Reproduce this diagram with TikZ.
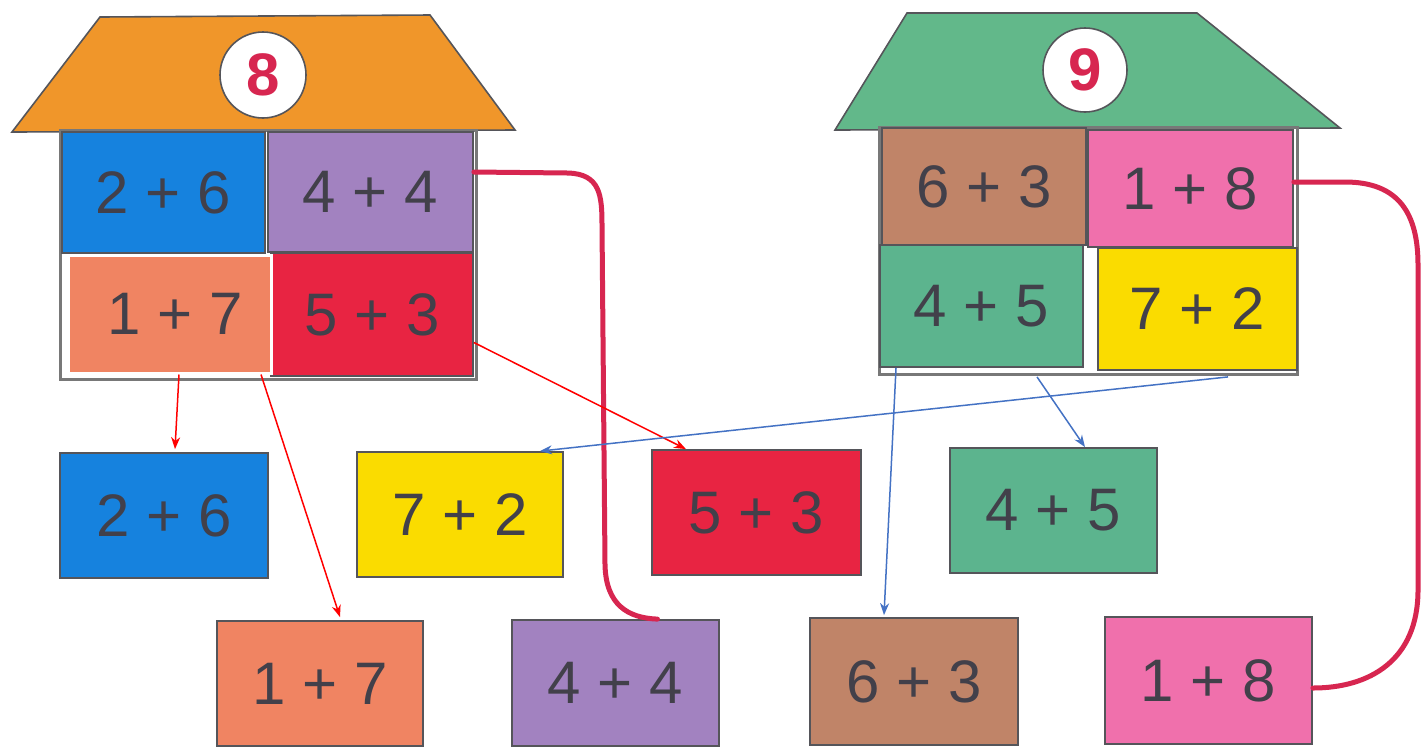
\documentclass[tikz,border=0pt]{standalone}
\usepackage{fontspec}
\setmainfont{Liberation Sans}
\usetikzlibrary{arrows.meta}
\definecolor{roofor}{RGB}{240,150,42}
\definecolor{roofgr}{RGB}{98,184,138}
\definecolor{cblue}{RGB}{22,130,222}
\definecolor{cpurple}{RGB}{162,130,192}
\definecolor{csalmon}{RGB}{240,132,98}
\definecolor{cred}{RGB}{232,36,66}
\definecolor{cbrown}{RGB}{192,132,104}
\definecolor{cpink}{RGB}{240,112,172}
\definecolor{cgreen}{RGB}{92,180,142}
\definecolor{cyellow}{RGB}{250,220,0}
\definecolor{txtgray}{RGB}{66,64,74}
\definecolor{edgegray}{RGB}{85,85,90}
\definecolor{bodygray}{RGB}{120,120,120}
\definecolor{crimson}{RGB}{215,38,80}
\definecolor{arrblue}{RGB}{68,114,196}
\tikzset{
  box/.style={draw=edgegray, line width=0.9pt, inner sep=0pt, text=txtgray,
    font=\fontsize{30}{32}\selectfont},
  roof/.style={draw=edgegray, line width=0.8pt},
  body/.style={draw=bodygray, line width=1.5pt, fill=white},
  badge/.style={circle, draw=edgegray, line width=0.8pt, fill=white, inner sep=0pt,
    text=crimson, font=\fontsize{30}{32}\selectfont\bfseries},
  redarr/.style={draw=red, line width=0.75pt, -{Stealth[length=6pt,width=4.5pt]}},
  bluearr/.style={draw=arrblue, line width=0.75pt, -{Stealth[length=6pt,width=4.5pt]}},
  link/.style={draw=crimson, line width=2.5pt, line cap=round}
}
\begin{document}
\begin{tikzpicture}[x=0.5pt,y=-0.5pt]
\useasboundingbox (0,0) rectangle (1422,746);
\fill[white] (0,0) rectangle (1422,746);
% ---------- house 8 ----------
\draw[roof, fill=roofor] (100,17) -- (430,15) -- (515,130) -- (12,132) -- cycle;
\node[badge, minimum size=43pt] (c8) at (263,75) {8};
\draw[body] (60,130) rectangle (476,379);
\node[box, fill=cblue, minimum width=101.5pt, minimum height=60.5pt] (h8a) at (163.5,192.5) {2 + 6};
\node[box, fill=cpurple, minimum width=102.5pt, minimum height=60pt] (h8b) at (370.5,192) {4 + 4};
\node[box, fill=cred, minimum width=101pt, minimum height=61.5pt] (h8d) at (372,314.5) {5 + 3};
\node[box, draw=white, line width=1.5pt, fill=csalmon, minimum width=101.5pt, minimum height=59pt] (h8c) at (169.5,314) {\hspace{6pt}1 + 7};
% ---------- house 9 ----------
\draw[roof, fill=roofgr] (907,13) -- (1197,13) -- (1340,128) -- (835,130) -- cycle;
\node[badge, minimum size=42pt] (c9) at (1085,70) {9};
\draw[body] (879,127) rectangle (1297,374);
\node[box, fill=cbrown, minimum width=102pt, minimum height=58.5pt] (h9a) at (984,186.5) {6 + 3};
\node[box, fill=cpink, minimum width=102.5pt, minimum height=58.5pt] (h9b) at (1190.5,188.5) {1 + 8};
\node[box, fill=cgreen, minimum width=101.5pt, minimum height=61pt] (h9c) at (981.5,306) {4 + 5};
\node[box, fill=cyellow, minimum width=99.5pt, minimum height=61pt] (h9d) at (1197.5,309) {7 + 2};
% ---------- loose cards ----------
\node[box, fill=cblue, minimum width=104pt, minimum height=62.5pt] (b1) at (164,515.5) {2 + 6};
\node[box, fill=cyellow, minimum width=103pt, minimum height=62.5pt] (b2) at (460,514.5) {7 + 2};
\node[box, fill=cred, minimum width=104.5pt, minimum height=62.5pt] (b3) at (756.5,512.5) {5 + 3};
\node[box, fill=cgreen, minimum width=103.5pt, minimum height=62.5pt] (b4) at (1053.5,510.5) {4 + 5};
\node[box, fill=csalmon, minimum width=103pt, minimum height=62.5pt] (b5) at (320,683.5) {1 + 7};
\node[box, fill=cpurple, minimum width=103.5pt, minimum height=63pt] (b6) at (615.5,683) {4 + 4};
\node[box, fill=cbrown, minimum width=104pt, minimum height=63.5pt] (b7) at (914,681.5) {6 + 3};
\node[box, fill=cpink, minimum width=103.5pt, minimum height=63.5pt] (b8) at (1208.5,680.5) {1 + 8};
% ---------- thick links ----------
\draw[link] ([yshift=10pt]h8b.east) -- (568,173)
  .. controls (600,174) and (602,195) .. (602,225)
  -- (605,565)
  .. controls (606,605) and (628,618) .. ([xshift=21pt]b6.north);
\draw[link] ([yshift=3.25pt]h9b.east) -- (1345,182)
  .. controls (1400,182) and (1418,215) .. (1418,265)
  -- (1418,590)
  .. controls (1418,660) and (1370,688) .. ([yshift=-3.75pt]b8.east);
% ---------- arrows ----------
\draw[redarr] ([xshift=4.75pt]h8c.south) -- ([xshift=5.5pt,yshift=1.5pt]b1.north);
\draw[redarr] ([xshift=45.75pt]h8c.south) -- ([xshift=10pt,yshift=1.5pt]b5.north);
\draw[redarr] ([yshift=-14pt]h8d.east) -- ([xshift=-35.25pt]b3.north);
\draw[bluearr] ([xshift=15.25pt,yshift=-3pt]h9d.south) -- ([xshift=40pt]b2.north);
\draw[bluearr] ([xshift=27.75pt,yshift=-4.5pt]h9c.south) -- ([xshift=15.75pt]b4.north);
\draw[bluearr] ([xshift=-42.75pt]h9c.south) -- ([xshift=-15pt,yshift=1pt]b7.north);
\end{tikzpicture}
\end{document}
